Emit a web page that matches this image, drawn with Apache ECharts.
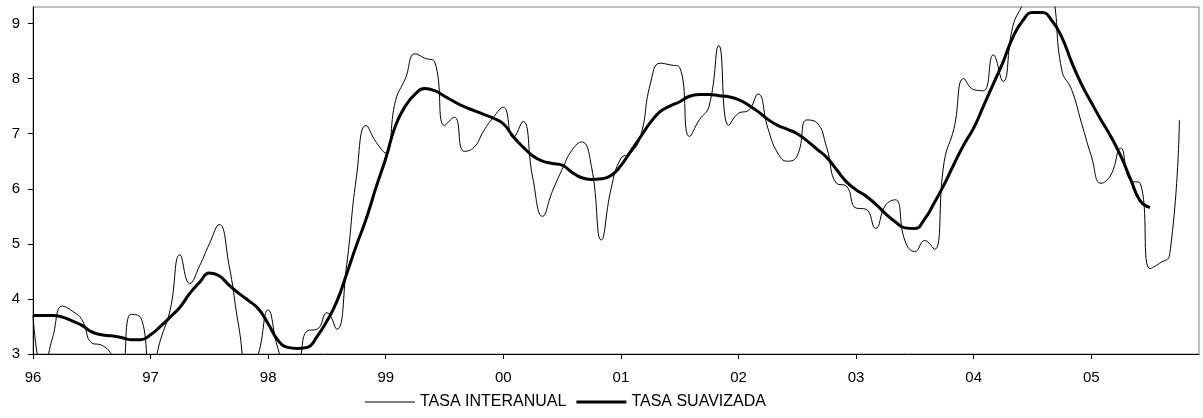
<!DOCTYPE html>
<html>
<head>
<meta charset="utf-8">
<script src="https://cdn.jsdelivr.net/npm/echarts@6/dist/echarts.min.js"></script>
<style>
  html, body { margin: 0; padding: 0; background: #fff; }
  #chart { width: 1203px; height: 418px; }
</style>
</head>
<body>
<div id="chart"></div>
<script>
// monthly series, Jan 1996 onwards
var startYear = 1996
var nMonths = 120
var yTicks = [3, 4, 5, 6, 7, 8, 9]

var tasaInteranual = [
  3.70, 2.70, 3.30, 3.87, 3.78, 3.62, 3.20, 3.16, 3.00, 2.70, 3.72, 3.66,
  2.60, 3.25, 3.80, 4.80, 4.28, 4.60, 5.00, 5.35, 4.62, 3.50, 2.60, 3.00,
  3.80, 3.10, 2.70, 2.80, 3.42, 3.45, 3.75, 3.45, 4.60, 6.20, 7.15, 6.85,
  6.65, 7.60, 8.00, 8.45, 8.37, 8.30, 7.15, 7.30, 6.68, 6.75, 7.05, 7.30,
  7.48, 6.93, 7.22, 6.20, 5.50, 5.95, 6.35, 6.70, 6.85, 6.40, 5.07, 6.00,
  6.55, 6.65, 6.95, 7.90, 8.28, 8.25, 8.20, 6.95, 7.25, 7.50, 8.60, 7.15,
  7.37, 7.42, 7.72, 7.10, 6.65, 6.50, 6.60, 7.25, 7.20, 6.75, 6.10, 6.05,
  5.65, 5.63, 5.28, 5.70, 5.80, 5.05, 4.86, 5.06, 4.90, 6.50, 7.10, 8.00,
  7.80, 7.78, 8.43, 7.95, 8.95, 9.35, 9.80, 9.90, 9.60, 8.15, 7.80, 7.20,
  6.60, 6.10, 6.25, 6.74, 6.15, 6.10, 4.55, 4.65, 4.80, 7.25
]

var tasaSuavizada = [
  3.70, 3.70, 3.70, 3.67, 3.60, 3.52, 3.40, 3.35, 3.33, 3.30, 3.26, 3.26,
  3.35, 3.50, 3.67, 3.85, 4.10, 4.30, 4.47, 4.42, 4.25, 4.10, 3.97, 3.82,
  3.55, 3.25, 3.12, 3.10, 3.12, 3.32, 3.60, 3.95, 4.45, 4.97, 5.45, 6.02,
  6.55, 7.15, 7.50, 7.72, 7.82, 7.78, 7.68, 7.58, 7.49, 7.42, 7.35, 7.28,
  7.18, 6.95, 6.76, 6.60, 6.50, 6.46, 6.43, 6.30, 6.20, 6.17, 6.18, 6.24,
  6.42, 6.68, 6.94, 7.20, 7.40, 7.50, 7.58, 7.68, 7.71, 7.71, 7.69, 7.67,
  7.62, 7.52, 7.40, 7.26, 7.15, 7.08, 7.00, 6.87, 6.72, 6.57, 6.35, 6.13,
  5.98, 5.87, 5.72, 5.55, 5.40, 5.29, 5.28, 5.45, 5.75, 6.08, 6.45, 6.80,
  7.10, 7.50, 7.90, 8.30, 8.75, 9.05, 9.20, 9.20, 9.05, 8.75, 8.30, 7.90,
  7.57, 7.25, 6.95, 6.60, 6.18, 5.78, 5.66
]

var months = []
for (var i = 0; i < nMonths; i++) {
  var yr = startYear + Math.floor(i / 12)
  months.push(String(yr).slice(2))
}

var isJan = function(idx) { return idx % 12 === 0 }
var font = '"Liberation Sans", Arial, sans-serif'

var chart = echarts.init(document.getElementById('chart'))
chart.setOption({
  animation: false,
  backgroundColor: '#fff',
  textStyle: { fontFamily: font },
  grid: {
    left: 33,
    right: 4,
    top: 7,
    bottom: 64,
    show: true,
    borderColor: '#808080',
    borderWidth: 1
  },
  legend: {
    bottom: 3,
    left: 360,
    itemWidth: 50,
    itemHeight: 12,
    itemGap: 10,
    textStyle: { color: '#000', fontSize: 16, fontFamily: font },
    data: [
      { name: 'TASA INTERANUAL', icon: 'path://M0,0L50,0L50,1L0,1Z' },
      { name: 'TASA SUAVIZADA', icon: 'path://M0,0L50,0L50,3L0,3Z' }
    ]
  },
  xAxis: {
    type: 'category',
    boundaryGap: false,
    data: months,
    axisLine: { lineStyle: { color: '#000', width: 1 } },
    axisTick: { show: true, interval: isJan, length: 5, lineStyle: { color: '#000' } },
    axisLabel: { interval: isJan, color: '#000', fontSize: 15, margin: 16 },
    splitLine: { show: false }
  },
  yAxis: {
    type: 'value',
    min: 3,
    max: 9.3,
    axisLine: { show: true, lineStyle: { color: '#000', width: 1 } },
    axisTick: { show: true, length: 5, customValues: yTicks, lineStyle: { color: '#000' } },
    axisLabel: { color: '#000', fontSize: 15, margin: 13, customValues: yTicks },
    splitLine: { show: false }
  },
  series: [{
    name: 'TASA INTERANUAL',
    type: 'line',
    data: tasaInteranual,
    smooth: 0.5,
    symbol: 'none',
    clip: true,
    color: '#000',
    lineStyle: { color: '#000', width: 1 }
  }, {
    name: 'TASA SUAVIZADA',
    type: 'line',
    data: tasaSuavizada,
    smooth: 0.5,
    symbol: 'none',
    clip: true,
    color: '#000',
    lineStyle: { color: '#000', width: 3 }
  }]
})
</script>
</body>
</html>
